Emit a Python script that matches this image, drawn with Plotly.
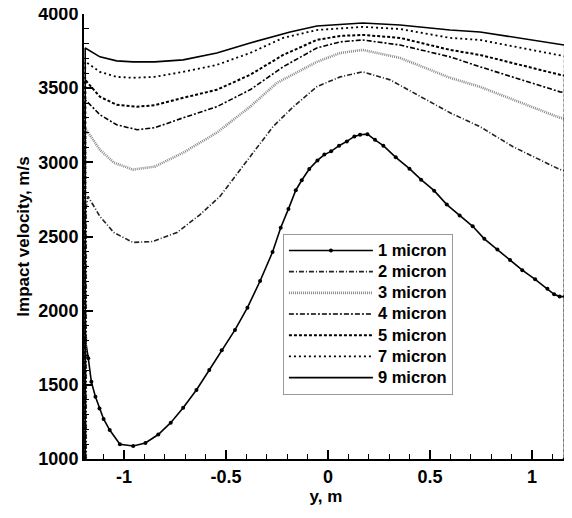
import plotly.graph_objects as go

# ---- data ----
names = ["1 micron", "2 micron", "3 micron", "4 micron", "5 micron", "7 micron", "9 micron"]

x_1 = [-1.19, -1.19, -1.175, -1.16, -1.14, -1.12, -1.10, -1.07, -1.02, -0.955, -0.895, -0.832, -0.771,
       -0.71, -0.645, -0.582, -0.521, -0.456, -0.395, -0.333, -0.272, -0.232, -0.194, -0.158,
       -0.129, -0.092, -0.052, -0.018, 0.015, 0.054, 0.092, 0.129, 0.157, 0.193, 0.230, 0.271,
       0.332, 0.399, 0.456, 0.520, 0.582, 0.645, 0.709, 0.766, 0.830, 0.892, 0.952, 1.015,
       1.075, 1.108, 1.135, 1.16, 1.16]
v_1 = [1000, 1810, 1680, 1520, 1420, 1340, 1270, 1195, 1100, 1088, 1108, 1165, 1245,
       1345, 1465, 1600, 1733, 1870, 2020, 2200, 2395, 2559, 2686, 2812,
       2879, 2955, 3013, 3052, 3074, 3112, 3141, 3175, 3186, 3190, 3152, 3112,
       3034, 2957, 2883, 2809, 2715, 2641, 2569, 2484, 2413, 2341, 2273, 2211,
       2148, 2110, 2095, 2095, 1000]

x_2 = [-1.185, -1.185, -1.176, -1.118, -1.05, -0.956, -0.86, -0.74, -0.627, -0.53, -0.382, -0.27,
       -0.17, -0.055, 0.059, 0.17, 0.304, 0.436, 0.598, 0.745, 0.907, 1.137, 1.16, 1.16]
v_2 = [1000, 2700, 2770, 2635, 2527, 2460, 2466, 2527, 2648, 2770, 3038, 3240,
       3375, 3510, 3576, 3610, 3556, 3455, 3334, 3240, 3105, 2951, 2945, 1000]

x_3 = [-1.19, -1.19, -1.118, -1.05, -0.956, -0.85, -0.71, -0.545, -0.382, -0.25, -0.055, 0.059,
       0.17, 0.353, 0.598, 0.745, 1.137, 1.16, 1.16]
v_3 = [1000, 3230, 3085, 2998, 2951, 2971, 3065, 3200, 3375, 3536, 3677, 3737,
       3758, 3704, 3570, 3509, 3300, 3295, 1000]

x_4 = [-1.19, -1.19, -1.118, -1.036, -0.936, -0.85, -0.71, -0.545, -0.382, -0.22, -0.055, 0.059,
       0.17, 0.353, 0.598, 0.745, 1.137, 1.16, 1.16]
v_4 = [1000, 3422, 3321, 3253, 3220, 3233, 3300, 3375, 3489, 3644, 3771, 3812,
       3825, 3791, 3711, 3644, 3475, 3470, 1000]

x_5 = [-1.19, -1.19, -1.118, -1.036, -0.936, -0.85, -0.71, -0.545, -0.382, -0.22, -0.055, 0.059,
       0.17, 0.353, 0.598, 0.745, 1.137, 1.16, 1.16]
v_5 = [1000, 3556, 3442, 3388, 3375, 3385, 3435, 3489, 3590, 3724, 3825, 3852,
       3859, 3839, 3758, 3724, 3590, 3585, 1000]

x_7 = [-1.19, -1.19, -1.118, -1.036, -0.956, -0.85, -0.71, -0.545, -0.382, -0.22, -0.055,
       0.17, 0.353, 0.598, 0.745, 1.137, 1.16, 1.16]
v_7 = [1000, 3680, 3610, 3576, 3570, 3576, 3610, 3657, 3737, 3839, 3892,
       3913, 3899, 3839, 3825, 3718, 3715, 1000]

x_9 = [-1.19, -1.19, -1.118, -1.036, -0.956, -0.85, -0.71, -0.545, -0.382, -0.186, -0.055,
       0.17, 0.353, 0.598, 0.745, 1.137, 1.16, 1.16]
v_9 = [1000, 3771, 3711, 3684, 3677, 3677, 3691, 3737, 3805, 3879, 3919,
       3939, 3926, 3892, 3879, 3792, 3790, 1000]

y_ticks = [1000, 1500, 2000, 2500, 3000, 3500, 4000]
x_ticks = [-1, -0.5, 0, 0.5, 1]
x_tick_text = ["-1", "-0.5", "0", "0.5", "1"]

series = [(x_1, v_1), (x_2, v_2), (x_3, v_3), (x_4, v_4), (x_5, v_5), (x_7, v_7), (x_9, v_9)]
styles = [
    dict(color="black", width=1.6, dash="solid"),
    dict(color="#222222", width=1.6, dash="5px,2px,1px,2px"),
    dict(color="#8a8a8a", width=2.6, dash="1px,1px"),
    dict(color="black", width=1.6, dash="5px,2px,2px,2px"),
    dict(color="black", width=2.0, dash="3px,2px"),
    dict(color="black", width=1.8, dash="2px,3px"),
    dict(color="black", width=1.6, dash="solid"),
]

FONT = "Liberation Sans, Arial, Helvetica, sans-serif"
fig = go.Figure()
for i, ((xs, vs), name, st) in enumerate(zip(series, names, styles)):
    fig.add_trace(go.Scatter(
        x=xs, y=vs, name="<span style='font-size:16.5px'>" + name + "</span>",
        mode="lines+markers" if i == 0 else "lines",
        line=st,
        marker=dict(size=4, color="black", symbol="circle") if i == 0 else None,
    ))

# the page body adds an 8px margin, so the figure is sized to fill the rest of the window
fig.update_layout(
    width=564, height=510,
    margin=dict(l=76, r=4, t=6, b=59),
    paper_bgcolor="white", plot_bgcolor="white",
    font=dict(family=FONT, size=17, color="black"),
    showlegend=True,
    legend=dict(
        x=0.411, y=0.506, xanchor="left", yanchor="top",
        bordercolor="#999999", borderwidth=1, bgcolor="white",
        font=dict(family=FONT, size=14, color="black", weight="bold"),
        itemwidth=84, tracegroupgap=0,
    ),
)
fig.update_xaxes(
    range=[-1.196, 1.176], showgrid=False, zeroline=False, automargin=False,
    showline=True, linecolor="black", linewidth=2,
    ticks="inside", ticklen=9, tickwidth=2, tickcolor="black",
    tickvals=x_ticks, ticktext=x_tick_text,
    tickfont=dict(family=FONT, size=18, weight="bold"),
    minor=dict(ticks="inside", ticklen=5, tickwidth=1, tickcolor="black", dtick=0.1, tick0=0),
    title=dict(text="y, m", font=dict(family=FONT, size=17, weight="bold"), standoff=4),
)
fig.update_yaxes(
    range=[1000, 4000], showgrid=False, zeroline=False, automargin=False,
    showline=True, linecolor="black", linewidth=2,
    ticks="inside", ticklen=9, tickwidth=2, tickcolor="black",
    tickvals=y_ticks, ticklabeloverflow="allow",
    tickfont=dict(family=FONT, size=18, weight="bold"),
    minor=dict(ticks="inside", ticklen=5, tickwidth=1, tickcolor="black", dtick=100, tick0=0),
    title=dict(text="Impact velocity, m/s", font=dict(family=FONT, size=17, weight="bold"), standoff=4),
)

fig.write_html("out.html")
